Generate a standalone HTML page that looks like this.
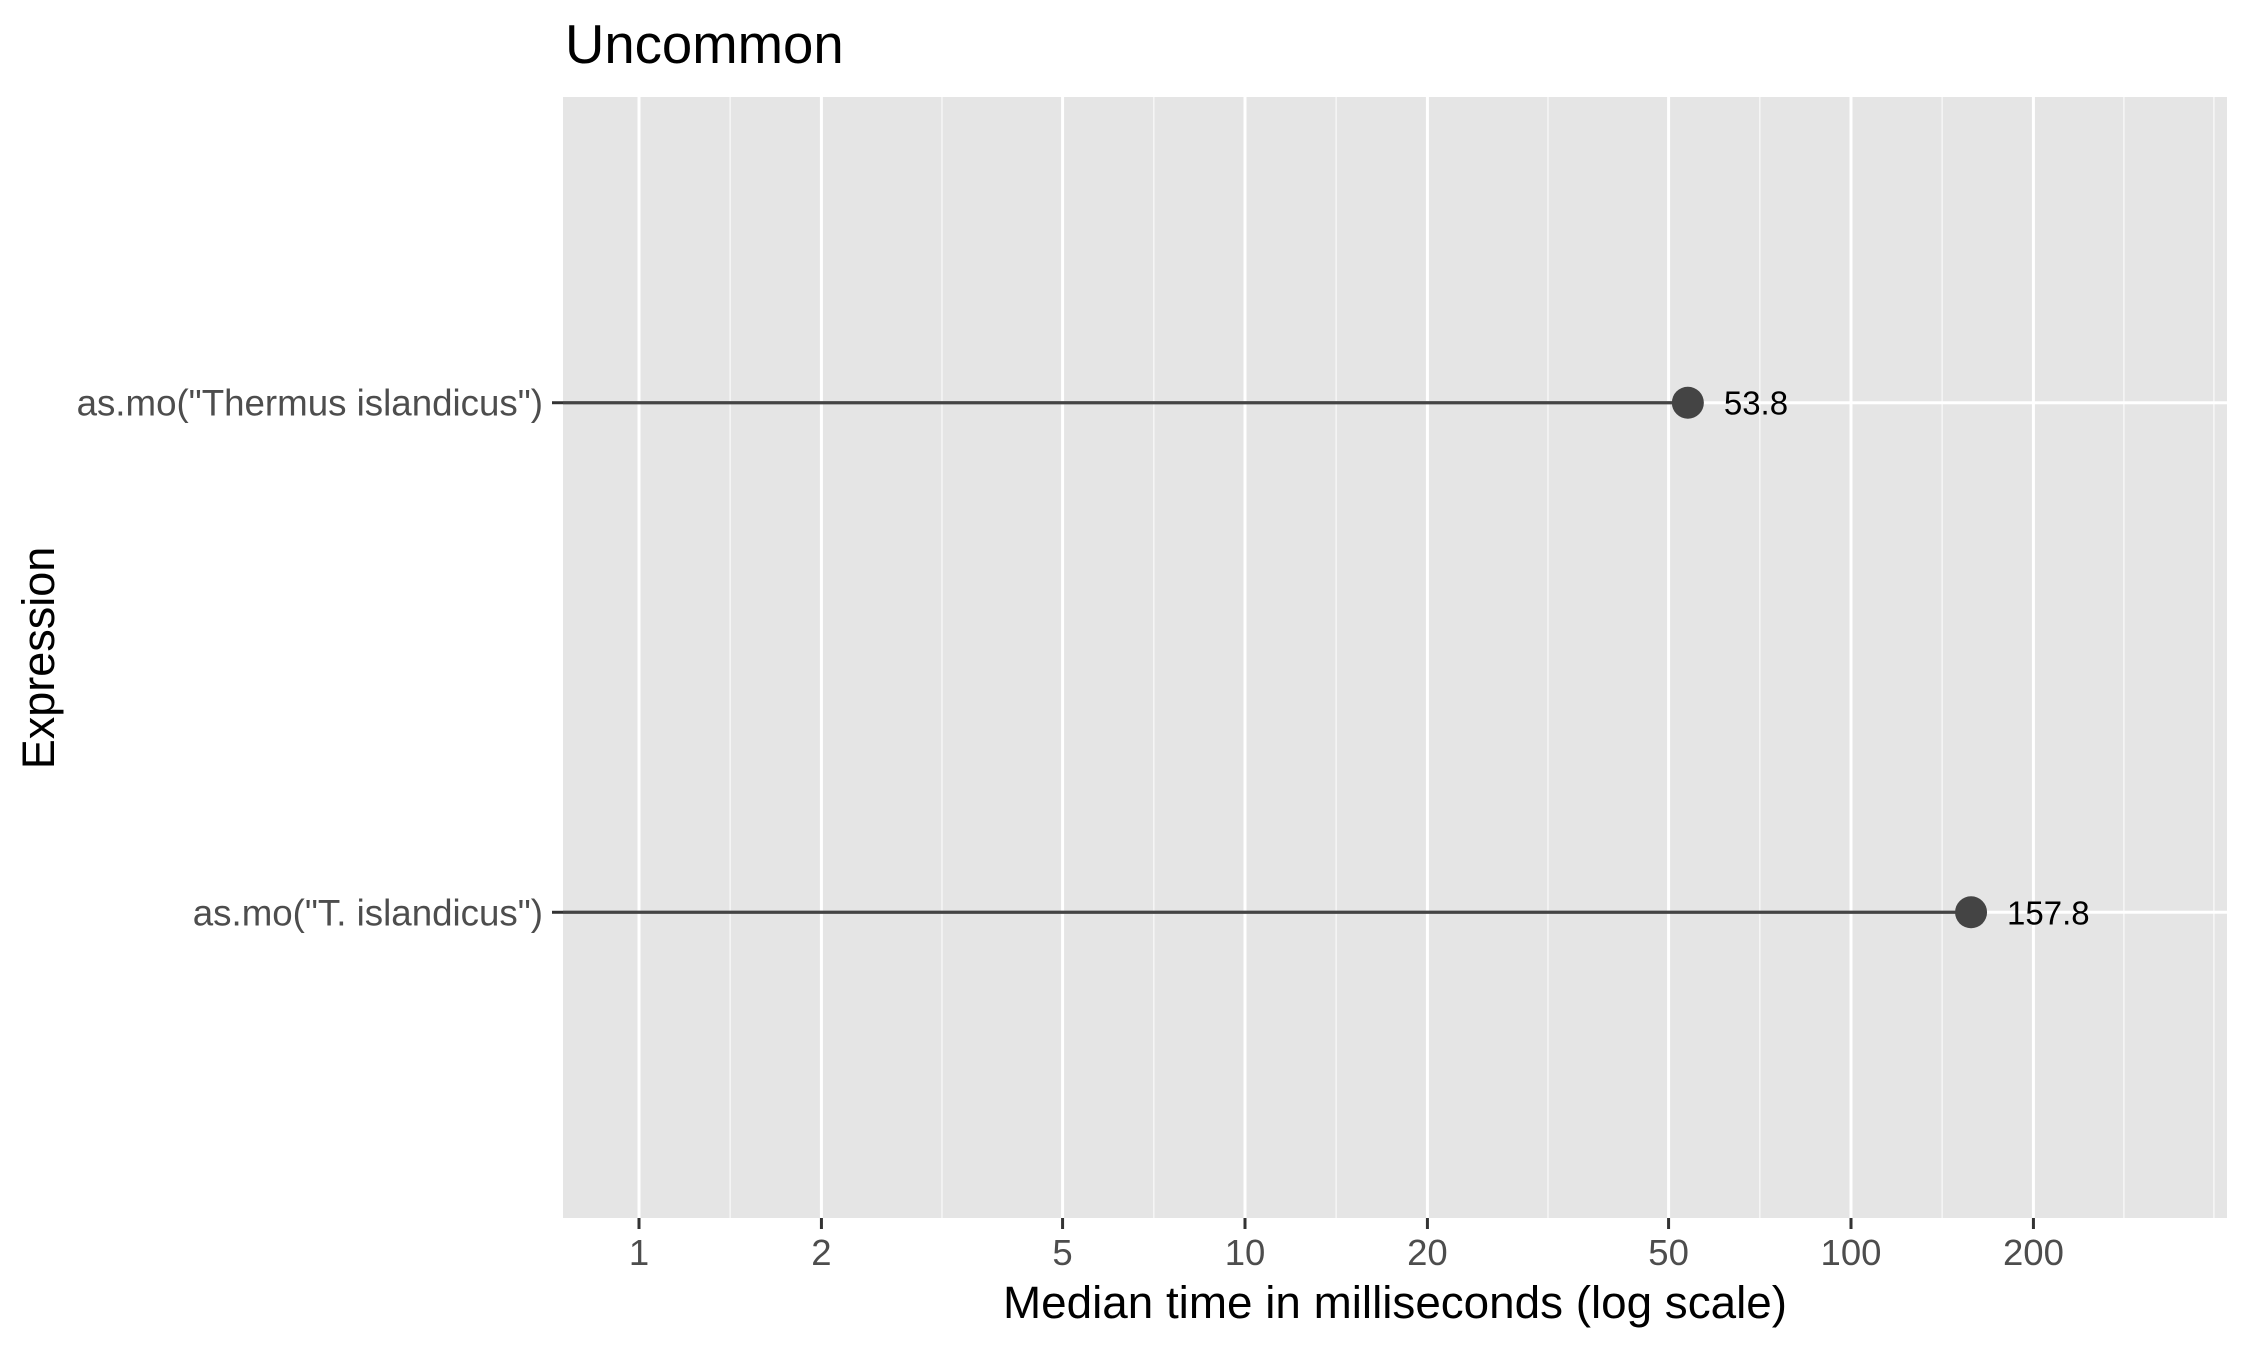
<!DOCTYPE html>
<html><head><meta charset="utf-8"><style>
html,body{margin:0;padding:0;background:#fff;}
svg{display:block;font-family:"Liberation Sans",Arial,sans-serif;}
</style></head><body>
<svg id="chart" width="2250" height="1350" viewBox="0 0 2250 1350">
<rect x="0" y="0" width="2250" height="1350" fill="#fff"/>
<text x="565" y="63" font-size="54.5" fill="#000">Uncommon</text>
<rect x="563" y="97" width="1664" height="1121" fill="#e5e5e5"/>
<g id="grid"></g>
<g id="marks"></g>
<g id="axes"></g>
<text x="1395" y="1318" font-size="45.8" text-anchor="middle" fill="#000">Median time in milliseconds (log scale)</text>
<text transform="translate(54,658) rotate(-90)" font-size="45" text-anchor="middle" fill="#000">Expression</text>
</svg>
<script>
const categories = ['as.mo("Thermus islandicus")', 'as.mo("T. islandicus")'];
const values = [53.8, 157.8];
const valueLabels = ['53.8', '157.8'];
const tickValues = [1, 2, 5, 10, 20, 50, 100, 200];
const tickLabels = ['1', '2', '5', '10', '20', '50', '100', '200'];
const minorValues = [1.414, 3.162, 7.071, 14.14, 31.62, 70.71, 141.4, 282, 397];

const NS = 'http://www.w3.org/2000/svg';
const PL = 563, PR = 2227, PT = 97, PB = 1218;
function xScale(v){ return 639 + Math.log10(v) * 606; }
function yScale(i){
  const n = categories.length;
  const level = n - i;
  return PT + ((n + 0.6) - level) / (n - 1 + 1.2) * (PB - PT);
}
function mk(tag, attrs, parent){
  const e = document.createElementNS(NS, tag);
  for (const k in attrs) e.setAttribute(k, attrs[k]);
  parent.appendChild(e);
  return e;
}
const grid = document.getElementById('grid');
const marks = document.getElementById('marks');
const axes = document.getElementById('axes');

minorValues.forEach(v => {
  const x = xScale(v);
  if (x < PL || x > PR) return;
  const l = mk('line', {x1:x, x2:x, y1:PT, y2:PB, stroke:'#f5f5f5', 'stroke-width':1.6}, grid);
  
  
});
tickValues.forEach((v, i) => {
  const x = xScale(v);
  const l = mk('line', {x1:x, x2:x, y1:PT, y2:PB, stroke:'#fff', 'stroke-width':3}, grid);
  
  
  const t = mk('line', {x1:x, x2:x, y1:PB, y2:PB + 11, stroke:'#333', 'stroke-width':3}, axes);
  
  
  const tx = mk('text', {x:x, y:1265, 'font-size':36.5, 'text-anchor':'middle', fill:'#4d4d4d'}, axes);
  tx.textContent = tickLabels[i];
  
  
});
categories.forEach((c, i) => {
  const y = yScale(i);
  const g = mk('line', {x1:PL, x2:PR, y1:y, y2:y, stroke:'#fff', 'stroke-width':3}, grid);
  
  
  const t = mk('line', {x1:552, x2:PL, y1:y, y2:y, stroke:'#333', 'stroke-width':3}, axes);
  
  
  const tl = mk('text', {x:543, y:y + 13, 'font-size':36.7, 'text-anchor':'end', fill:'#4d4d4d'}, axes);
  tl.textContent = c;
  
  
  const x = xScale(values[i]);
  const seg = mk('line', {x1:PL, x2:x, y1:y, y2:y, stroke:'#444', 'stroke-width':3.2}, marks);
  
  
  const p = mk('circle', {cx:x, cy:y, r:16, fill:'#444'}, marks);
  
  
  const lab = mk('text', {x:x + 36, y:y + 12, 'font-size':33, fill:'#000'}, marks);
  lab.textContent = valueLabels[i];
  
  
});
</script>
</body></html>
